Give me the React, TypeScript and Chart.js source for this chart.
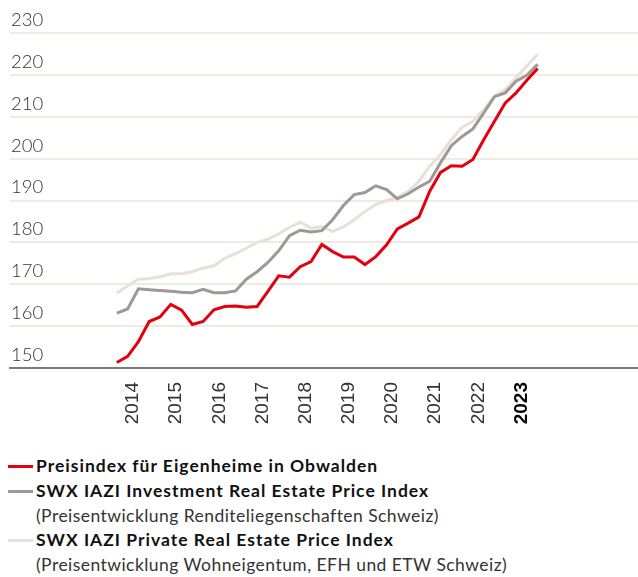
import React, { useEffect, useRef } from "react";
import { Chart, registerables } from "chart.js";

Chart.register(...registerables);

// ---- data ----
const YEARS = ["2014", "2015", "2016", "2017", "2018", "2019", "2020", "2021", "2022", "2023"];
const QUARTERS_PER_YEAR = 4;

// quarterly values, 2014 Q1 .. 2023 Q4
const OBWALDEN = [
  151.3, 152.8, 156.3, 161.1, 162.2, 165.2, 163.8, 160.4, 161.1, 163.9,
  164.7, 164.8, 164.5, 164.7, 168.3, 172.0, 171.7, 174.2, 175.4, 179.5,
  177.8, 176.5, 176.5, 174.7, 176.6, 179.4, 183.2, 184.6, 186.1, 192.2,
  196.7, 198.3, 198.2, 199.8, 204.5, 208.9, 213.3, 215.7, 218.7, 221.5,
];
const INVESTMENT = [
  163.1, 164.1, 168.9, 168.7, 168.5, 168.3, 168.1, 168.0, 168.8, 168.0,
  168.0, 168.4, 171.2, 173.0, 175.2, 178.0, 181.6, 182.9, 182.5, 182.8,
  185.4, 188.8, 191.4, 191.9, 193.5, 192.6, 190.4, 191.6, 193.2, 194.6,
  199.0, 203.1, 205.3, 207.1, 210.9, 214.8, 215.7, 218.5, 219.9, 222.5,
];
const PRIVATE = [
  167.9, 169.6, 171.2, 171.4, 171.8, 172.5, 172.5, 173.0, 173.9, 174.4,
  176.2, 177.3, 178.6, 180.0, 180.8, 182.0, 183.6, 184.8, 183.4, 183.8,
  182.6, 183.7, 185.4, 187.4, 189.0, 190.0, 190.8, 192.2, 194.6, 198.2,
  201.0, 204.5, 207.5, 208.9, 211.7, 214.9, 216.5, 219.3, 222.1, 224.9,
];

const Y_MIN = 150;
const Y_MAX = 230;
const Y_STEP = 10;
const BOLD_YEAR = "2023";

const LEGEND_TITLES = [
  "Preisindex für Eigenheime in Obwalden",
  "SWX IAZI Investment Real Estate Price Index",
  "SWX IAZI Private Real Estate Price Index",
];
const LEGEND_SUBTITLES = [
  "",
  "(Preisentwicklung Renditeliegenschaften Schweiz)",
  "(Preisentwicklung Wohneigentum, EFH und ETW Schweiz)",
];

// ---- styles ----
const COLORS = ["#e3000f", "#9e9992", "#e7e1d7"];
const GRID_COLOR = "#eeeae4";
const AXIS_COLOR = "#7a7a7a";
const FONT = "Lato, 'Open Sans', sans-serif";

const toPoints = (arr: number[]) => arr.map((v, i) => ({ x: i, y: v }));

export default function App() {
  const canvasRef = useRef<HTMLCanvasElement | null>(null);

  useEffect(() => {
    const canvas = canvasRef.current;
    if (!canvas) return;
    const series = [OBWALDEN, INVESTMENT, PRIVATE];
    const chart = new Chart(canvas, {
      type: "line",
      data: {
        datasets: series.map((s, k) => ({
          label: LEGEND_TITLES[k],
          data: toPoints(s),
          borderColor: COLORS[k],
          backgroundColor: COLORS[k],
          borderWidth: 3,
          pointRadius: 0,
          tension: 0,
          fill: false,
        })),
      },
      options: {
        animation: false,
        responsive: false,
        maintainAspectRatio: false,
        layout: { padding: { top: 33, left: 0, right: 0, bottom: 0 } },
        plugins: { legend: { display: false }, tooltip: { enabled: false } },
        scales: {
          x: {
            type: "linear",
            min: -9.9,
            max: 48.3,
            afterBuildTicks: (scale: any) => {
              scale.ticks = YEARS.map((_, i) => ({ value: i * QUARTERS_PER_YEAR + 1.5 }));
            },
            afterFit: (scale: any) => {
              scale.height = 70;
            },
            grid: { display: false, drawTicks: false },
            border: { display: true, color: AXIS_COLOR, width: 2 },
            ticks: {
              autoSkip: false,
              minRotation: 90,
              maxRotation: 90,
              padding: 14,
              callback: (_v: any, i: number) => YEARS[i],
              color: (ctx: any) => (YEARS[ctx.index] === BOLD_YEAR ? "#000" : "#333"),
              font: (ctx: any) => ({
                family: "'Liberation Sans', Arial, sans-serif",
                size: 19,
                weight: YEARS[ctx.index] === BOLD_YEAR ? "bold" : "normal",
              }),
            },
          },
          y: {
            type: "linear",
            min: Y_MIN,
            max: Y_MAX,
            grid: {
              color: (ctx: any) => (ctx.tick && ctx.tick.value === Y_MIN ? "rgba(0,0,0,0)" : GRID_COLOR),
              lineWidth: 2,
              drawTicks: false,
            },
            border: { display: false },
            ticks: {
              stepSize: Y_STEP,
              mirror: true,
              padding: 1,
              labelOffset: -13,
              color: "#333",
              font: { family: FONT, size: 18.5, weight: "300" },
            },
          },
        },
      },
    } as any);
    return () => chart.destroy();
  }, []);

  return (
    <div style={{ position: "absolute", left: 0, top: 0, width: 638, height: 577, overflow: "hidden", background: "#fff" }}>
      <canvas
        ref={canvasRef}
        width={630}
        height={438}
        style={{ position: "absolute", left: 8, top: 0, width: 630, height: 438 }}
      />
      <div
        style={{
          position: "absolute",
          left: 8,
          top: 454,
          fontFamily: FONT,
          fontSize: 17.5,
          lineHeight: "24.8px",
          whiteSpace: "nowrap",
        }}
      >
        {LEGEND_TITLES.map((t, k) => (
          <div key={t}>
            <div style={{ display: "flex", alignItems: "center" }}>
              <span
                style={{
                  display: "inline-block",
                  width: 25,
                  height: 3,
                  background: COLORS[k],
                  marginRight: 3,
                }}
              />
              <span style={{ fontWeight: 700, color: "#111", letterSpacing: "1px" }}>{t}</span>
            </div>
            {LEGEND_SUBTITLES[k] ? (
              <div style={{ paddingLeft: 28, color: "#333", fontWeight: 400, letterSpacing: "0.45px" }}>
                {LEGEND_SUBTITLES[k]}
              </div>
            ) : null}
          </div>
        ))}
      </div>
    </div>
  );
}
